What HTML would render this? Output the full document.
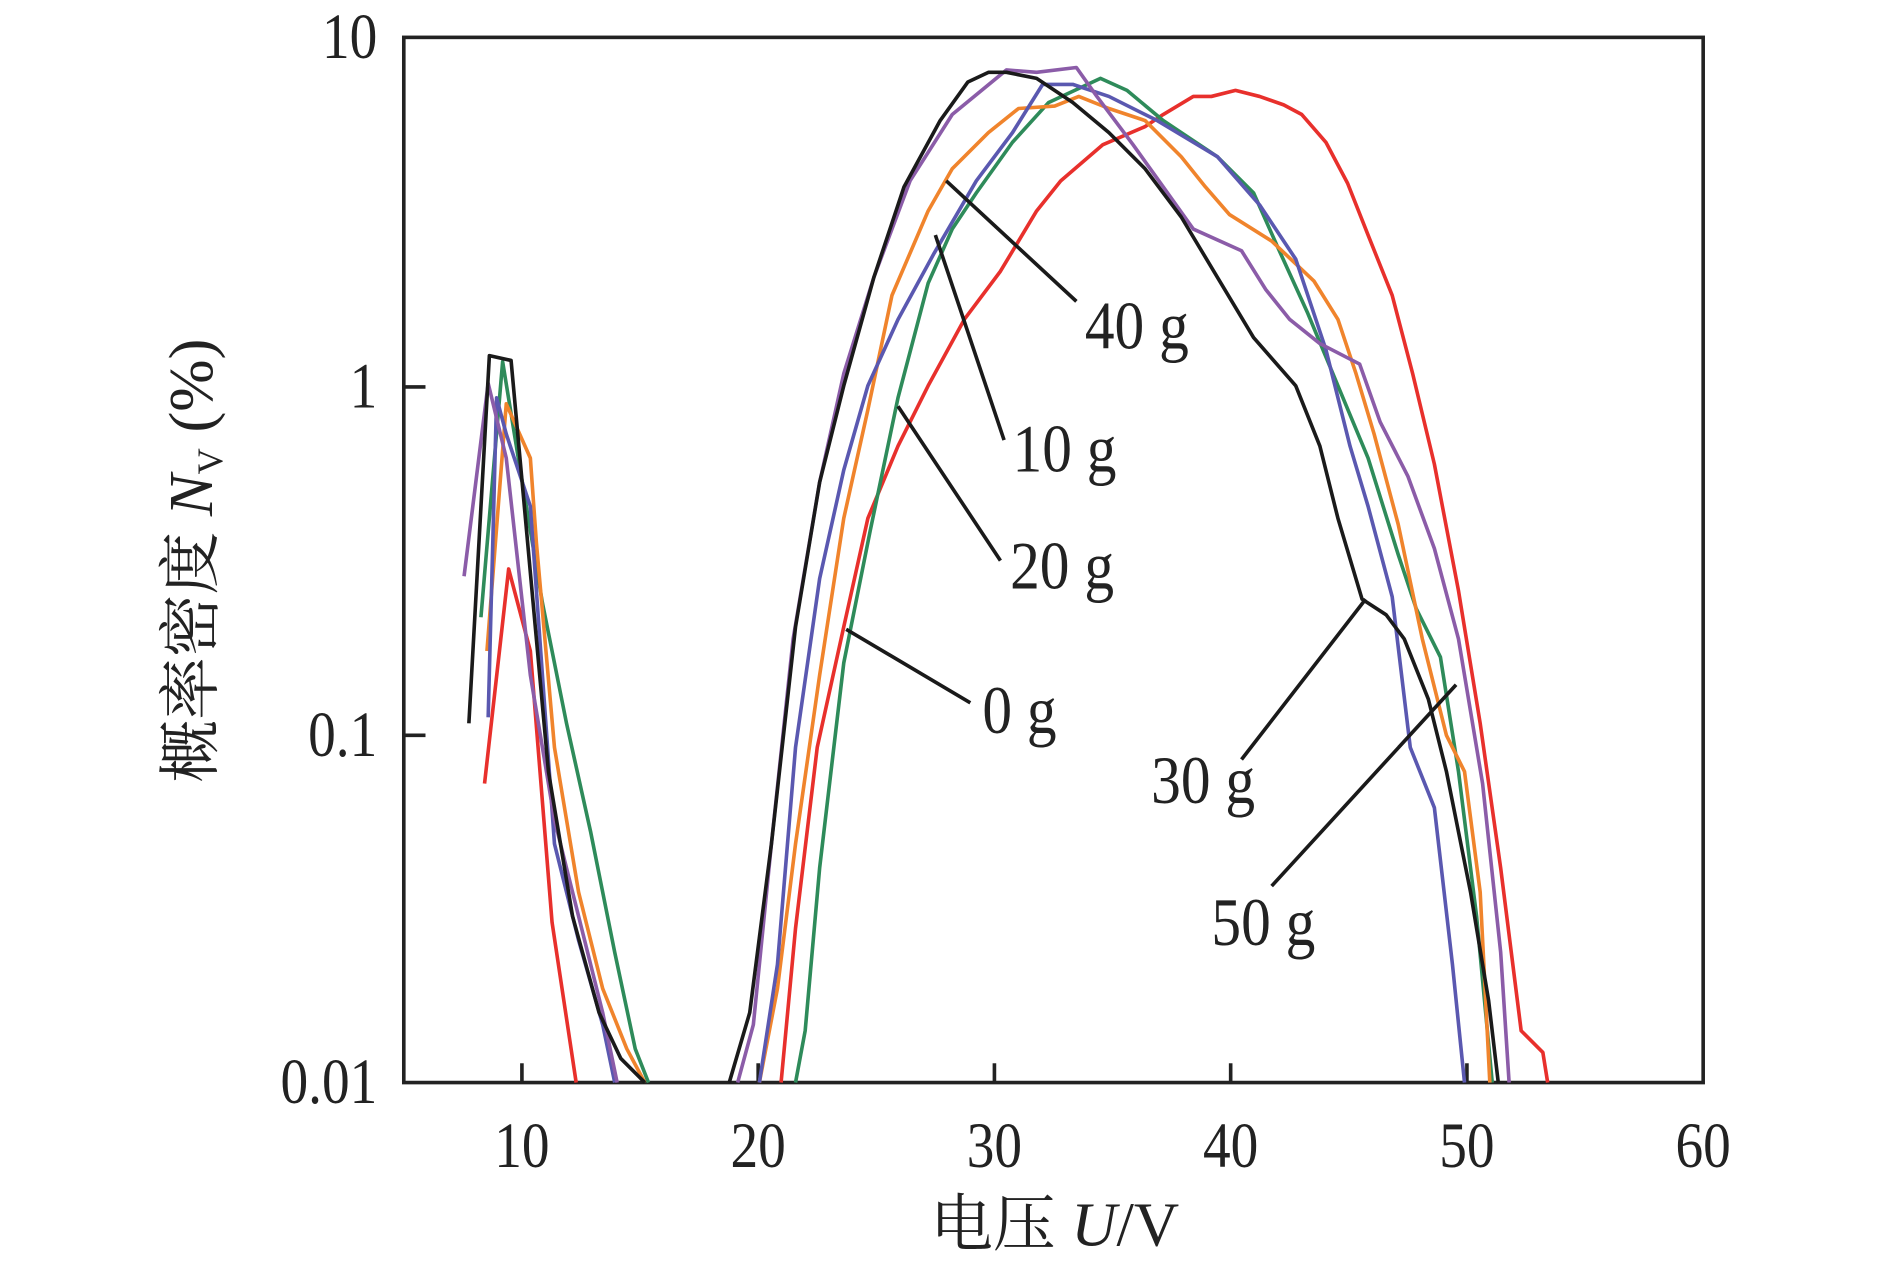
<!DOCTYPE html>
<html><head><meta charset="utf-8"><style>html,body{margin:0;padding:0;background:#fff;}svg{display:block}</style></head><body>
<svg width="1890" height="1267" viewBox="0 0 1568 1051" preserveAspectRatio="none" xmlns="http://www.w3.org/2000/svg" font-family="'Liberation Serif','Noto Serif CJK SC',serif">
<rect x="335" y="31" width="1078" height="867" fill="none" stroke="#222" stroke-width="3"/>
<g stroke="#222" stroke-width="3">
<line x1="335" y1="321" x2="353" y2="321"/><line x1="335" y1="610" x2="353" y2="610"/>
<line x1="433" y1="898" x2="433" y2="882"/><line x1="629" y1="898" x2="629" y2="882"/><line x1="825" y1="898" x2="825" y2="882"/><line x1="1021" y1="898" x2="1021" y2="882"/><line x1="1217" y1="898" x2="1217" y2="882"/>
</g>
<g font-size="54" fill="#222" text-anchor="end">
<text transform="translate(313,48) scale(0.85,1)">10</text><text transform="translate(313,338) scale(0.85,1)">1</text><text transform="translate(313,627) scale(0.85,1)">0.1</text><text transform="translate(313,915) scale(0.85,1)">0.01</text>
</g>
<g font-size="54" fill="#222" text-anchor="middle">
<text transform="translate(433,968) scale(0.85,1)">10</text><text transform="translate(629,968) scale(0.85,1)">20</text><text transform="translate(825,968) scale(0.85,1)">30</text><text transform="translate(1021,968) scale(0.85,1)">40</text><text transform="translate(1217,968) scale(0.85,1)">50</text><text transform="translate(1413,968) scale(0.85,1)">60</text>
</g>
<text x="875" y="1033" font-size="52" fill="#222" text-anchor="middle">电压 <tspan font-style="italic">U</tspan>/V</text>
<text transform="translate(176,465) rotate(-90)" font-size="52" fill="#222" text-anchor="middle">概率密度 <tspan font-style="italic">N</tspan><tspan font-size="30" dy="8">V</tspan><tspan dy="-8"> (%)</tspan></text>
<g fill="none" stroke-width="3" stroke-linejoin="round">
<polyline stroke="#e8302c" points="402,650 422,472 440,540 458,765 478,898"/>
<polyline stroke="#e8302c" points="648,898 660,770 678,620 700,520 720,430 745,370 770,320 800,265 830,225 860,175 880,150 915,120 950,105 965,95 990,80 1005,80 1025,75 1045,80 1065,87 1080,95 1100,118 1118,152 1135,195 1155,245 1172,310 1190,385 1210,490 1228,600 1245,720 1262,855 1280,873 1284,898"/>
<polyline stroke="#2e8b5a" points="399,512 417,300 430,380 450,500 470,600 490,690 510,790 527,870 538,898"/>
<polyline stroke="#2e8b5a" points="660,898 668,855 680,720 700,550 722,440 745,330 770,235 790,190 810,160 840,118 870,85 913,65 935,75 965,100 1010,130 1040,160 1060,205 1085,260 1110,320 1135,380 1160,460 1175,505 1195,545 1210,640 1225,760 1238,898"/>
<polyline stroke="#f0842c" points="404,540 420,335 440,380 445,450 460,620 480,740 500,820 520,870 535,898"/>
<polyline stroke="#f0842c" points="630,898 645,820 660,700 680,560 700,430 720,340 740,245 770,175 790,140 820,110 845,90 875,88 895,80 920,90 950,100 980,130 1000,155 1020,178 1055,200 1090,233 1110,265 1125,310 1140,360 1160,435 1180,530 1200,610 1215,640 1228,740 1236,898"/>
<polyline stroke="#5a58b0" points="405,595 412,330 420,360 440,420 460,700 480,780 500,850 510,898"/>
<polyline stroke="#5a58b0" points="630,898 645,800 660,620 680,480 700,390 720,320 745,265 775,210 810,150 840,110 865,70 890,70 920,80 960,100 1010,130 1045,170 1075,215 1100,290 1120,370 1135,420 1155,495 1170,620 1190,670 1205,800 1215,898"/>
<polyline stroke="#8b5ca8" points="385,478 405,318 420,380 440,560 460,680 480,760 500,840 512,898"/>
<polyline stroke="#8b5ca8" points="612,898 625,850 640,700 658,530 680,400 700,310 725,230 755,150 790,95 835,58 860,60 893,56 910,80 940,120 965,155 990,190 1030,208 1050,240 1070,265 1095,285 1128,302 1145,350 1168,395 1190,455 1210,530 1230,650 1245,790 1252,898"/>
<polyline stroke="#1a1a1a" points="389,600 406,295 424,299 435,420 455,640 475,760 497,840 515,878 535,898"/>
<polyline stroke="#1a1a1a" points="605,898 622,840 640,700 660,520 680,400 700,320 725,230 750,155 780,100 803,68 820,60 835,60 860,65 890,85 920,110 950,140 980,180 1010,230 1040,280 1075,320 1095,370 1110,430 1130,497 1150,510 1165,530 1185,580 1200,640 1220,740 1235,830 1243,898"/>
</g>
<g stroke="#1a1a1a" stroke-width="3">
<line x1="785" y1="150" x2="893" y2="250"/><line x1="776" y1="195" x2="833" y2="365"/><line x1="745" y1="337" x2="830" y2="465"/><line x1="702" y1="522" x2="805" y2="583"/><line x1="1133" y1="497" x2="1030" y2="630"/><line x1="1208" y1="568" x2="1055" y2="735"/>
</g>
<g font-size="56" fill="#222">
<text transform="translate(900,289) scale(0.88,1)">40 g</text><text transform="translate(840,391) scale(0.88,1)">10 g</text><text transform="translate(838,488) scale(0.88,1)">20 g</text><text transform="translate(815,608) scale(0.88,1)">0 g</text><text transform="translate(955,666) scale(0.88,1)">30 g</text><text transform="translate(1005,784) scale(0.88,1)">50 g</text>
</g>
</svg>
</body></html>
